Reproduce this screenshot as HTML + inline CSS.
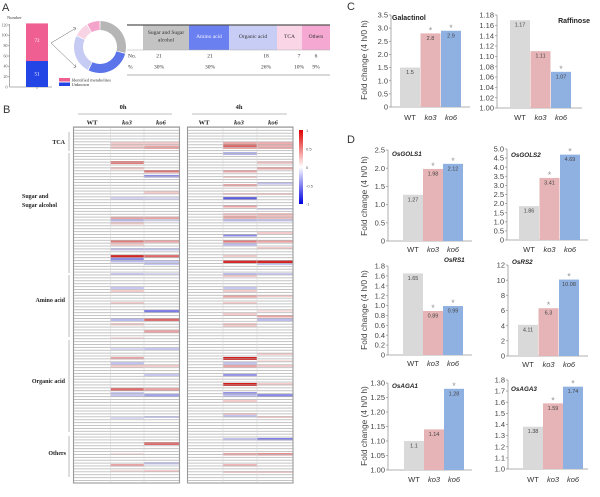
<!DOCTYPE html>
<html><head><meta charset="utf-8"><style>
html,body{margin:0;padding:0;background:#fff;}
svg{display:block;}
.s{font-family:"Liberation Sans",Arial,sans-serif;}
.f{font-family:"Liberation Serif","Times New Roman",serif;}
.tk{font-family:"Liberation Sans",Arial,sans-serif;font-size:7.5px;fill:#444;text-anchor:end;}
.xl{font-family:"Liberation Sans",Arial,sans-serif;font-size:7.5px;fill:#333;text-anchor:middle;}
.it{font-style:italic;}
.vl{font-family:"Liberation Sans",Arial,sans-serif;font-size:5.5px;fill:#444;text-anchor:middle;}
.as{font-family:"Liberation Sans",Arial,sans-serif;font-size:9px;fill:#999;text-anchor:middle;}
.ti{font-family:"Liberation Sans",Arial,sans-serif;font-size:6.3px;font-weight:bold;font-style:italic;fill:#222;}
.yl{font-family:"Liberation Sans",Arial,sans-serif;font-size:8.4px;fill:#444;text-anchor:middle;}
.ax line{stroke:#999;stroke-width:0.8;}
</style></head><body>
<svg width="600" height="497" viewBox="0 0 600 497" xmlns="http://www.w3.org/2000/svg">
<defs>
<pattern id="rows" x="0" y="127" width="10" height="2.894" patternUnits="userSpaceOnUse"><rect x="0" y="0" width="10" height="0.75" fill="#b0b0b0"/></pattern>
<linearGradient id="cb" x1="0" y1="0" x2="0" y2="1">
<stop offset="0" stop-color="#e00000"/><stop offset="0.5" stop-color="#ffffff"/><stop offset="1" stop-color="#0000e0"/>
</linearGradient>
</defs>

<!-- Panel labels -->
<text x="2" y="11" class="s" font-size="11" fill="#333">A</text>
<text x="3" y="113" class="s" font-size="11" fill="#333">B</text>
<text x="347" y="10" class="s" font-size="11" fill="#333">C</text>
<text x="347" y="143" class="s" font-size="11" fill="#333">D</text>

<!-- ===== Panel A ===== -->
<text x="7" y="19" class="f" font-size="4.5" fill="#444">Number</text>
<g class="ax"><line x1="9.5" y1="24" x2="9.5" y2="87"/><line x1="9.5" y1="87" x2="52" y2="87"/><line x1="37" y1="87" x2="37" y2="89"/>
<line x1="8" y1="25" x2="9.5" y2="25"/><line x1="8" y1="35.3" x2="9.5" y2="35.3"/><line x1="8" y1="45.7" x2="9.5" y2="45.7"/><line x1="8" y1="56" x2="9.5" y2="56"/><line x1="8" y1="66.3" x2="9.5" y2="66.3"/><line x1="8" y1="76.7" x2="9.5" y2="76.7"/></g>
<g class="f" font-size="4" fill="#555" text-anchor="end">
<text x="7.5" y="26.3">120</text><text x="7.5" y="36.6">100</text><text x="7.5" y="47">80</text><text x="7.5" y="57.3">60</text><text x="7.5" y="67.6">40</text><text x="7.5" y="78">20</text><text x="7.5" y="88.3">0</text></g>
<rect x="26" y="23.4" width="22" height="37.6" fill="#ef5f92"/>
<rect x="26" y="61" width="22" height="26" fill="#2445e6"/>
<text x="37" y="42" class="f" font-size="5" fill="#fff" text-anchor="middle">72</text>
<text x="37" y="75.5" class="f" font-size="5" fill="#fff" text-anchor="middle">51</text>
<rect x="59" y="78" width="11" height="3.5" fill="#ef5f92"/>
<rect x="59" y="82.5" width="11" height="3.5" fill="#2445e6"/>
<text x="71.5" y="81.3" class="f" font-size="4.5" fill="#333">Identified metabolites</text>
<text x="71.5" y="85.8" class="f" font-size="4.5" fill="#333">Unknown</text>
<g stroke="#666" stroke-width="0.5" fill="none">
<line x1="51" y1="43" x2="76" y2="28"/><line x1="51" y1="43" x2="76" y2="67"/>
<polyline points="73,27.5 76,28 74.5,30.5"/><polyline points="73.5,67.5 76,67 75.5,64.5"/></g>
<!-- donut -->
<path d="M100.45,21 A26,26 0 0 1 125.33,52.85 L116.56,50.82 A17,17 0 0 0 100.30,30 Z" fill="#b6b6b6"/>
<path d="M125.11,53.73 A26,26 0 0 1 88.60,70.37 L92.55,62.28 A17,17 0 0 0 116.42,51.40 Z" fill="#5b74ea"/>
<path d="M87.79,69.96 A26,26 0 0 1 76.44,36.01 L84.59,39.82 A17,17 0 0 0 92.02,62.01 Z" fill="#c6cbf4"/>
<path d="M76.83,35.20 A26,26 0 0 1 86.61,24.71 L91.24,32.43 A17,17 0 0 0 84.85,39.28 Z" fill="#f8d3e3"/>
<path d="M87.39,24.26 A26,26 0 0 1 99.55,21 L99.70,30 A17,17 0 0 0 91.76,32.13 Z" fill="#f4a3cb"/>
<!-- table -->
<rect x="143" y="25.5" width="46" height="24.5" fill="#c3c3c3"/>
<rect x="189" y="25.5" width="40" height="24.5" fill="#6a80f0"/>
<rect x="229" y="25.5" width="48" height="24.5" fill="#c8cdf5"/>
<rect x="277" y="25.5" width="25" height="24.5" fill="#fad5e5"/>
<rect x="302" y="25.5" width="28" height="24.5" fill="#f5a8d2"/>
<line x1="127" y1="25" x2="330" y2="25" stroke="#555" stroke-width="1.2"/>
<line x1="127" y1="50" x2="330" y2="50" stroke="#aaa" stroke-width="0.5"/>
<line x1="127" y1="75" x2="330" y2="75" stroke="#999" stroke-width="0.8"/>
<g class="f" font-size="5.5" fill="#333" text-anchor="middle">
<text x="166" y="34">Sugar and Sugar</text><text x="166" y="41.5">alcohol</text>
<text x="209" y="38" fill="#f4f4ff">Amino acid</text>
<text x="253" y="38">Organic acid</text>
<text x="289.5" y="38">TCA</text>
<text x="316" y="38">Others</text>
<text x="159" y="57.5">21</text><text x="210" y="57.5">21</text><text x="266" y="57.5">18</text><text x="299" y="57.5">7</text><text x="316" y="57.5">6</text>
<text x="159" y="68.5">30%</text><text x="210" y="68.5">30%</text><text x="266" y="68.5">26%</text><text x="299" y="68.5">10%</text><text x="316" y="68.5">9%</text>
</g>
<g class="f" font-size="5.5" fill="#333"><text x="128" y="57.5">No.</text><text x="128" y="68.5">%</text></g>

<!-- ===== Panel B ===== -->
<g class="f" font-size="6.5" font-weight="bold" fill="#222" text-anchor="middle">
<text x="123" y="109">0h</text><text x="239" y="109">4h</text>
<text x="92" y="124.5">WT</text><text x="127" y="124.5" font-style="italic">ko3</text><text x="161" y="124.5" font-style="italic">ko6</text>
<text x="204" y="124.5">WT</text><text x="239" y="124.5" font-style="italic">ko3</text><text x="273" y="124.5" font-style="italic">ko6</text>
</g>
<line x1="78" y1="114" x2="172" y2="114" stroke="#aaa" stroke-width="0.8"/>
<line x1="192" y1="114" x2="287" y2="114" stroke="#aaa" stroke-width="0.8"/>
<g class="f" font-size="6" font-weight="bold" fill="#222">
<text x="65" y="144" text-anchor="end">TCA</text>
<text x="22" y="198">Sugar and</text><text x="22" y="207">Sugar alcohol</text>
<text x="65" y="302" text-anchor="end">Amino acid</text>
<text x="65" y="383" text-anchor="end">Organic acid</text>
<text x="66" y="455" text-anchor="end">Others</text>
</g>
<g stroke="#aaa" stroke-width="0.8">
<line x1="69" y1="132" x2="69" y2="151"/><line x1="69" y1="153" x2="69" y2="273"/><line x1="69" y1="275" x2="69" y2="337"/><line x1="69" y1="340" x2="69" y2="432"/><line x1="69" y1="436" x2="69" y2="477"/></g>

<rect x="73" y="127" width="107" height="356" fill="#fff"/>
<rect x="187" y="127" width="106" height="356" fill="#fff"/>
<!-- heatmap cells -->
<g>
<!-- 0h ko3 x=110.5 w=33.5 -->
<rect x="110.5" y="142" width="33.5" height="7" fill="#f6cccc"/>
<rect x="110.5" y="161" width="33.5" height="3" fill="#e77a7a"/>
<rect x="110.5" y="167" width="33.5" height="2.5" fill="#f6cccc"/>
<rect x="110.5" y="197" width="33.5" height="2.5" fill="#d4d4f6"/>
<rect x="110.5" y="216.5" width="33.5" height="2.5" fill="#eea4a4"/>
<rect x="110.5" y="219" width="33.5" height="2.5" fill="#b8b8f0"/>
<rect x="110.5" y="222" width="33.5" height="2.5" fill="#f6cccc"/>
<rect x="110.5" y="240" width="33.5" height="2.5" fill="#e77a7a"/>
<rect x="110.5" y="243" width="33.5" height="2.5" fill="#f6cccc"/>
<rect x="110.5" y="248" width="33.5" height="2.5" fill="#c4c4f2"/>
<rect x="110.5" y="255" width="33.5" height="2.5" fill="#d42424"/>
<rect x="110.5" y="257.5" width="33.5" height="2.5" fill="#8c8ce8"/>
<rect x="110.5" y="260" width="33.5" height="2.5" fill="#bcbcf2"/>
<rect x="110.5" y="273" width="33.5" height="2" fill="#c8c8f4"/>
<rect x="110.5" y="287" width="33.5" height="2" fill="#c8c8f4"/>
<rect x="110.5" y="290" width="33.5" height="2" fill="#f6cccc"/>
<rect x="110.5" y="302" width="33.5" height="2" fill="#f6cccc"/>
<rect x="110.5" y="318" width="33.5" height="3" fill="#bcbcf2"/>
<rect x="110.5" y="323" width="33.5" height="2.5" fill="#f6cccc"/>
<rect x="110.5" y="337" width="33.5" height="2" fill="#fae2e2"/>
<rect x="110.5" y="348" width="33.5" height="2" fill="#dadaf6"/>
<rect x="110.5" y="357" width="33.5" height="2.5" fill="#eea4a4"/>
<rect x="110.5" y="362" width="33.5" height="2.5" fill="#c4c4f2"/>
<rect x="110.5" y="365" width="33.5" height="2.5" fill="#f6cccc"/>
<rect x="110.5" y="388" width="33.5" height="3" fill="#e06a6a"/>
<rect x="110.5" y="392" width="33.5" height="5" fill="#c8c8f4"/>
<rect x="110.5" y="417" width="33.5" height="2" fill="#dadaf6"/>
<rect x="110.5" y="453" width="33.5" height="2" fill="#fae2e2"/>
<rect x="110.5" y="464" width="33.5" height="2.5" fill="#eea4a4"/>
<rect x="110.5" y="470" width="33.5" height="2" fill="#fae2e2"/>
<!-- 0h ko6 x=144 w=35 -->
<rect x="144" y="142" width="35" height="4" fill="#f6cccc"/>
<rect x="144" y="146" width="35" height="3" fill="#eea4a4"/>
<rect x="144" y="170" width="35" height="2.5" fill="#e06a6a"/>
<rect x="144" y="175" width="35" height="2.5" fill="#8c8ce8"/>
<rect x="144" y="191" width="35" height="2.5" fill="#f6cccc"/>
<rect x="144" y="197" width="35" height="2.5" fill="#dadaf6"/>
<rect x="144" y="216.5" width="35" height="2.5" fill="#eea4a4"/>
<rect x="144" y="219" width="35" height="2.5" fill="#dadaf6"/>
<rect x="144" y="240" width="35" height="2.5" fill="#eea4a4"/>
<rect x="144" y="248" width="35" height="2.5" fill="#c8c8f4"/>
<rect x="144" y="255" width="35" height="2.5" fill="#e06a6a"/>
<rect x="144" y="260" width="35" height="5" fill="#c8c8f4"/>
<rect x="144" y="273" width="35" height="2" fill="#dadaf6"/>
<rect x="144" y="310" width="35" height="2.5" fill="#7c7ce6"/>
<rect x="144" y="318" width="35" height="3" fill="#e06a6a"/>
<rect x="144" y="330" width="35" height="2.5" fill="#eea4a4"/>
<rect x="144" y="348" width="35" height="2" fill="#c8c8f4"/>
<rect x="144" y="365" width="35" height="2" fill="#f6cccc"/>
<rect x="144" y="374" width="35" height="2" fill="#c8c8f4"/>
<rect x="144" y="388" width="35" height="3" fill="#eea4a4"/>
<rect x="144" y="394" width="35" height="3" fill="#a4a4ec"/>
<rect x="144" y="416" width="35" height="2" fill="#c8c8f4"/>
<rect x="144" y="442" width="35" height="3" fill="#e06a6a"/>
<rect x="144" y="462" width="35" height="2.5" fill="#c4c4f2"/>
<rect x="144" y="470" width="35" height="2" fill="#f6cccc"/>
<!-- 4h ko3 x=223 w=34 -->
<rect x="223" y="142" width="34" height="7" fill="#eea4a4"/>
<rect x="223" y="144" width="34" height="3" fill="#e06464"/>
<rect x="223" y="152" width="34" height="3" fill="#b4b4f0"/>
<rect x="223" y="170" width="34" height="2.5" fill="#eea4a4"/>
<rect x="223" y="176" width="34" height="2" fill="#f6cccc"/>
<rect x="223" y="184" width="34" height="2.5" fill="#eea4a4"/>
<rect x="223" y="193" width="34" height="2" fill="#f6cccc"/>
<rect x="223" y="197" width="34" height="2.5" fill="#5c5ce0"/>
<rect x="223" y="205" width="34" height="2.5" fill="#eea4a4"/>
<rect x="223" y="213" width="34" height="6" fill="#f6cccc"/>
<rect x="223" y="216" width="34" height="2.5" fill="#eea4a4"/>
<rect x="223" y="219" width="34" height="2.5" fill="#bcbcf2"/>
<rect x="223" y="234" width="34" height="2.5" fill="#8c8ce8"/>
<rect x="223" y="240" width="34" height="2.5" fill="#e77a7a"/>
<rect x="223" y="243" width="34" height="2.5" fill="#bcbcf2"/>
<rect x="223" y="255" width="34" height="2" fill="#f6cccc"/>
<rect x="223" y="260" width="34" height="3" fill="#d82828"/>
<rect x="223" y="273" width="34" height="2" fill="#bcbcf2"/>
<rect x="223" y="275" width="34" height="2" fill="#f6cccc"/>
<rect x="223" y="287" width="34" height="2" fill="#c8c8f4"/>
<rect x="223" y="290" width="34" height="2" fill="#f6cccc"/>
<rect x="223" y="295" width="34" height="2.5" fill="#eea4a4"/>
<rect x="223" y="302" width="34" height="2" fill="#f6cccc"/>
<rect x="223" y="313" width="34" height="3" fill="#f6cccc"/>
<rect x="223" y="323" width="34" height="4" fill="#f6cccc"/>
<rect x="223" y="357" width="34" height="3" fill="#d41c1c"/>
<rect x="223" y="362" width="34" height="2.5" fill="#c4c4f2"/>
<rect x="223" y="365" width="34" height="2.5" fill="#eea4a4"/>
<rect x="223" y="374" width="34" height="2.5" fill="#9494ea"/>
<rect x="223" y="383" width="34" height="3" fill="#d41c1c"/>
<rect x="223" y="392" width="34" height="2.5" fill="#9494ea"/>
<rect x="223" y="394.5" width="34" height="2.5" fill="#c4c4f2"/>
<rect x="223" y="400" width="34" height="2" fill="#f6cccc"/>
<rect x="223" y="413" width="34" height="2" fill="#f6cccc"/>
<rect x="223" y="415" width="34" height="2.5" fill="#c4c4f2"/>
<rect x="223" y="438" width="34" height="2.5" fill="#c4c4f2"/>
<rect x="223" y="453" width="34" height="2.5" fill="#eea4a4"/>
<rect x="223" y="464" width="34" height="2.5" fill="#f2b8b8"/>
<rect x="223" y="471" width="34" height="2" fill="#f6cccc"/>
<!-- 4h ko6 x=257 w=36 -->
<rect x="257" y="142" width="36" height="7" fill="#f0aeae"/>
<rect x="257" y="161" width="36" height="3" fill="#f6cccc"/>
<rect x="257" y="167" width="36" height="2.5" fill="#eea4a4"/>
<rect x="257" y="182" width="36" height="2.5" fill="#c4c4f2"/>
<rect x="257" y="193" width="36" height="2" fill="#f6cccc"/>
<rect x="257" y="208" width="36" height="2" fill="#dadaf6"/>
<rect x="257" y="213" width="36" height="6" fill="#f3c0c0"/>
<rect x="257" y="219" width="36" height="2.5" fill="#c8c8f4"/>
<rect x="257" y="232" width="36" height="2" fill="#f6cccc"/>
<rect x="257" y="240" width="36" height="2.5" fill="#eea4a4"/>
<rect x="257" y="247" width="36" height="2" fill="#f6cccc"/>
<rect x="257" y="260" width="36" height="3" fill="#d42424"/>
<rect x="257" y="263" width="36" height="2" fill="#c4c4f2"/>
<rect x="257" y="273" width="36" height="2" fill="#c8c8f4"/>
<rect x="257" y="295" width="36" height="2" fill="#f6cccc"/>
<rect x="257" y="310" width="36" height="2" fill="#fae2e2"/>
<rect x="257" y="315" width="36" height="2.5" fill="#eea4a4"/>
<rect x="257" y="318" width="36" height="3" fill="#bcbcf2"/>
<rect x="257" y="353" width="36" height="2" fill="#f6cccc"/>
<rect x="257" y="360" width="36" height="2" fill="#fae2e2"/>
<rect x="257" y="365" width="36" height="2" fill="#f6cccc"/>
<rect x="257" y="383" width="36" height="2.5" fill="#f6cccc"/>
<rect x="257" y="394" width="36" height="3" fill="#8c8ce8"/>
<rect x="257" y="416" width="36" height="2" fill="#f6cccc"/>
<rect x="257" y="438" width="36" height="2.5" fill="#8080e6"/>
<rect x="257" y="453" width="36" height="2.5" fill="#e99090"/>
<rect x="257" y="471" width="36" height="2" fill="#f6cccc"/>
</g>
<rect x="73" y="127" width="107" height="356" fill="url(#rows)"/>
<rect x="187" y="127" width="106" height="356" fill="url(#rows)"/>
<g stroke="#d6d6d6" stroke-width="0.6">
<line x1="110.5" y1="127" x2="110.5" y2="483"/><line x1="144" y1="127" x2="144" y2="483"/>
<line x1="223" y1="127" x2="223" y2="483"/><line x1="257" y1="127" x2="257" y2="483"/></g>
<rect x="73.5" y="127" width="106" height="356" fill="none" stroke="#9a9a9a" stroke-width="1.1"/>
<rect x="187.5" y="127" width="105.5" height="356" fill="none" stroke="#9a9a9a" stroke-width="1.1"/>
<!-- colorbar -->
<rect x="299" y="130" width="4" height="74" fill="url(#cb)"/>
<g class="s" font-size="4" fill="#555">
<text x="306" y="132">1</text><text x="306" y="150.5">0.5</text><text x="306" y="169">0</text><text x="306" y="187.5">-0.5</text><text x="306" y="205.5">-1</text></g>

<!-- ===== Panel C ===== -->
<text class="yl" transform="rotate(-90 367 60)" x="367" y="60">Fold change (4 h/0 h)</text>
<!-- Galactinol -->
<g class="ax"><line x1="391" y1="15" x2="391" y2="107"/><line x1="391" y1="107" x2="470" y2="107"/>
<line x1="389" y1="107" x2="391" y2="107"/><line x1="389" y1="93.86" x2="391" y2="93.86"/><line x1="389" y1="80.71" x2="391" y2="80.71"/><line x1="389" y1="67.57" x2="391" y2="67.57"/><line x1="389" y1="54.43" x2="391" y2="54.43"/><line x1="389" y1="41.29" x2="391" y2="41.29"/><line x1="389" y1="28.14" x2="391" y2="28.14"/><line x1="389" y1="15" x2="391" y2="15"/></g>
<text class="tk" x="388" y="109.6">0</text><text class="tk" x="388" y="96.5">0.5</text><text class="tk" x="388" y="83.3">1.0</text><text class="tk" x="388" y="70.2">1.5</text><text class="tk" x="388" y="57">2.0</text><text class="tk" x="388" y="43.9">2.5</text><text class="tk" x="388" y="30.7">3.0</text><text class="tk" x="388" y="17.6">3.5</text>
<rect x="400" y="67.57" width="20" height="39.43" fill="#d9d9d9"/>
<rect x="420.5" y="33.4" width="20" height="73.6" fill="#e6b4b6"/>
<rect x="441" y="30.77" width="20" height="76.23" fill="#8fb1e2"/>
<text class="vl" x="410" y="74.1">1.5</text><text class="vl" x="430.5" y="39.9">2.8</text><text class="vl" x="451" y="37.3">2.9</text>
<text class="as" x="430.5" y="33.4">*</text><text class="as" x="451" y="30.8">*</text>
<text x="392" y="20" class="s" font-size="7" font-weight="bold" fill="#222">Galactinol</text>
<text class="xl" x="410" y="120">WT</text><text class="xl it" x="430.5" y="120">ko3</text><text class="xl it" x="451" y="120">ko6</text>
<!-- Raffinose -->
<g class="ax"><line x1="497" y1="15" x2="497" y2="108"/><line x1="497" y1="108" x2="582" y2="108"/>
<line x1="495" y1="108" x2="497" y2="108"/><line x1="495" y1="97.67" x2="497" y2="97.67"/><line x1="495" y1="87.33" x2="497" y2="87.33"/><line x1="495" y1="77" x2="497" y2="77"/><line x1="495" y1="66.67" x2="497" y2="66.67"/><line x1="495" y1="56.33" x2="497" y2="56.33"/><line x1="495" y1="46" x2="497" y2="46"/><line x1="495" y1="35.67" x2="497" y2="35.67"/><line x1="495" y1="25.33" x2="497" y2="25.33"/><line x1="495" y1="15" x2="497" y2="15"/></g>
<text class="tk" x="494" y="110.6">1.00</text><text class="tk" x="494" y="100.3">1.02</text><text class="tk" x="494" y="89.9">1.04</text><text class="tk" x="494" y="79.6">1.06</text><text class="tk" x="494" y="69.3">1.08</text><text class="tk" x="494" y="58.9">1.10</text><text class="tk" x="494" y="48.6">1.12</text><text class="tk" x="494" y="38.3">1.14</text><text class="tk" x="494" y="27.9">1.16</text><text class="tk" x="494" y="17.6">1.18</text>
<rect x="510" y="20.17" width="20" height="87.83" fill="#d9d9d9"/>
<rect x="530.5" y="51.17" width="20" height="56.83" fill="#e6b4b6"/>
<rect x="551" y="71.83" width="20" height="36.17" fill="#8fb1e2"/>
<text class="vl" x="520" y="26.7">1.17</text><text class="vl" x="540.5" y="57.7">1.11</text><text class="vl" x="561" y="78.3">1.07</text>
<text class="as" x="561" y="71.8">*</text>
<text x="590" y="23" class="s" font-size="7" font-weight="bold" fill="#222" text-anchor="end">Raffinose</text>
<text class="xl" x="520" y="120">WT</text><text class="xl it" x="540.5" y="120">ko3</text><text class="xl it" x="561" y="120">ko6</text>

<!-- ===== Panel D ===== -->
<text class="yl" transform="rotate(-90 367 196)" x="367" y="196">Fold change (4 h/0 h)</text>
<text class="yl" transform="rotate(-90 367 310)" x="367" y="310">Fold change (4 h/0 h)</text>
<text class="yl" transform="rotate(-90 367 426)" x="367" y="426">Fold change (4 h/0 h)</text>

<!-- GOLS1 -->
<g class="ax"><line x1="388" y1="150" x2="388" y2="241"/><line x1="388" y1="241" x2="472" y2="241"/>
<line x1="386" y1="241" x2="388" y2="241"/><line x1="386" y1="222.8" x2="388" y2="222.8"/><line x1="386" y1="204.6" x2="388" y2="204.6"/><line x1="386" y1="186.4" x2="388" y2="186.4"/><line x1="386" y1="168.2" x2="388" y2="168.2"/><line x1="386" y1="150" x2="388" y2="150"/></g>
<text class="tk" x="385" y="243.6">0</text><text class="tk" x="385" y="225.4">0.5</text><text class="tk" x="385" y="207.2">1.0</text><text class="tk" x="385" y="189">1.5</text><text class="tk" x="385" y="170.8">2.0</text><text class="tk" x="385" y="152.6">2.5</text>
<rect x="403" y="194.77" width="20" height="46.23" fill="#d9d9d9"/>
<rect x="423" y="168.93" width="20" height="72.07" fill="#e6b4b6"/>
<rect x="443" y="163.83" width="20" height="77.17" fill="#8fb1e2"/>
<text class="vl" x="413" y="201.3">1.27</text><text class="vl" x="433" y="175.4">1.98</text><text class="vl" x="453" y="170.3">2.12</text>
<text class="as" x="433" y="168.9">*</text><text class="as" x="453" y="163.8">*</text>
<text class="ti" x="392" y="156">OsGOLS1</text>
<text class="xl" x="413" y="252">WT</text><text class="xl it" x="433" y="252">ko3</text><text class="xl it" x="453" y="252">ko6</text>

<!-- GOLS2 -->
<g class="ax"><line x1="507" y1="149" x2="507" y2="240"/><line x1="507" y1="240" x2="588" y2="240"/>
<line x1="505" y1="240" x2="507" y2="240"/><line x1="505" y1="230.9" x2="507" y2="230.9"/><line x1="505" y1="221.8" x2="507" y2="221.8"/><line x1="505" y1="212.7" x2="507" y2="212.7"/><line x1="505" y1="203.6" x2="507" y2="203.6"/><line x1="505" y1="194.5" x2="507" y2="194.5"/><line x1="505" y1="185.4" x2="507" y2="185.4"/><line x1="505" y1="176.3" x2="507" y2="176.3"/><line x1="505" y1="167.2" x2="507" y2="167.2"/><line x1="505" y1="158.1" x2="507" y2="158.1"/><line x1="505" y1="149" x2="507" y2="149"/></g>
<text class="tk" x="504" y="242.6">0</text><text class="tk" x="504" y="233.5">0.5</text><text class="tk" x="504" y="224.4">1.0</text><text class="tk" x="504" y="215.3">1.5</text><text class="tk" x="504" y="206.2">2.0</text><text class="tk" x="504" y="197.1">2.5</text><text class="tk" x="504" y="188">3.0</text><text class="tk" x="504" y="178.9">3.5</text><text class="tk" x="504" y="169.8">4.0</text><text class="tk" x="504" y="160.7">4.5</text><text class="tk" x="504" y="151.6">5.0</text>
<rect x="519" y="206.15" width="20" height="33.85" fill="#d9d9d9"/>
<rect x="539.5" y="177.94" width="20" height="62.06" fill="#e6b4b6"/>
<rect x="560" y="154.64" width="20" height="85.36" fill="#8fb1e2"/>
<text class="vl" x="529" y="212.6">1.86</text><text class="vl" x="549.5" y="184.4">3.41</text><text class="vl" x="570" y="161.1">4.69</text>
<text class="as" x="549.5" y="177.9">*</text><text class="as" x="570" y="154.6">*</text>
<text class="ti" x="511" y="157">OsGOLS2</text>
<text class="xl" x="529" y="252">WT</text><text class="xl it" x="549.5" y="252">ko3</text><text class="xl it" x="570" y="252">ko6</text>

<!-- RS1 -->
<g class="ax"><line x1="388" y1="266" x2="388" y2="355"/><line x1="388" y1="355" x2="472" y2="355"/>
<line x1="386" y1="355" x2="388" y2="355"/><line x1="386" y1="345.1" x2="388" y2="345.1"/><line x1="386" y1="335.2" x2="388" y2="335.2"/><line x1="386" y1="325.3" x2="388" y2="325.3"/><line x1="386" y1="315.4" x2="388" y2="315.4"/><line x1="386" y1="305.6" x2="388" y2="305.6"/><line x1="386" y1="295.7" x2="388" y2="295.7"/><line x1="386" y1="285.8" x2="388" y2="285.8"/><line x1="386" y1="275.9" x2="388" y2="275.9"/><line x1="386" y1="266" x2="388" y2="266"/></g>
<text class="tk" x="385" y="357.6">0</text><text class="tk" x="385" y="347.7">0.2</text><text class="tk" x="385" y="337.8">0.4</text><text class="tk" x="385" y="327.9">0.6</text><text class="tk" x="385" y="318">0.8</text><text class="tk" x="385" y="308.2">1.0</text><text class="tk" x="385" y="298.3">1.2</text><text class="tk" x="385" y="288.4">1.4</text><text class="tk" x="385" y="278.5">1.6</text><text class="tk" x="385" y="268.6">1.8</text>
<rect x="403" y="273.42" width="20" height="81.58" fill="#d9d9d9"/>
<rect x="423" y="311" width="20" height="44" fill="#e6b4b6"/>
<rect x="443" y="306.05" width="20" height="48.95" fill="#8fb1e2"/>
<text class="vl" x="413" y="279.9">1.65</text><text class="vl" x="433" y="317.5">0.89</text><text class="vl" x="453" y="312.5">0.99</text>
<text class="as" x="433" y="311">*</text><text class="as" x="453" y="306">*</text>
<text class="ti" x="444" y="262">OsRS1</text>
<text class="xl" x="413" y="366">WT</text><text class="xl it" x="433" y="366">ko3</text><text class="xl it" x="453" y="366">ko6</text>

<!-- RS2 -->
<g class="ax"><line x1="508" y1="265" x2="508" y2="356"/><line x1="508" y1="356" x2="588" y2="356"/>
<line x1="506" y1="356" x2="508" y2="356"/><line x1="506" y1="340.8" x2="508" y2="340.8"/><line x1="506" y1="325.7" x2="508" y2="325.7"/><line x1="506" y1="310.5" x2="508" y2="310.5"/><line x1="506" y1="295.3" x2="508" y2="295.3"/><line x1="506" y1="280.2" x2="508" y2="280.2"/><line x1="506" y1="265" x2="508" y2="265"/></g>
<text class="tk" x="505" y="358.6">0</text><text class="tk" x="505" y="343.4">2</text><text class="tk" x="505" y="328.3">4</text><text class="tk" x="505" y="313.1">6</text><text class="tk" x="505" y="297.9">8</text><text class="tk" x="505" y="282.8">10</text><text class="tk" x="505" y="267.6">12</text>
<rect x="518" y="324.83" width="20" height="31.17" fill="#d9d9d9"/>
<rect x="538.5" y="308.22" width="20" height="47.78" fill="#e6b4b6"/>
<rect x="559" y="279.56" width="20" height="76.44" fill="#8fb1e2"/>
<text class="vl" x="528" y="331.3">4.11</text><text class="vl" x="548.5" y="314.7">6.3</text><text class="vl" x="569" y="286">10.08</text>
<text class="as" x="548.5" y="308.2">*</text><text class="as" x="569" y="279.6">*</text>
<text class="ti" x="512" y="264">OsRS2</text>
<text class="xl" x="528" y="367">WT</text><text class="xl it" x="548.5" y="367">ko3</text><text class="xl it" x="569" y="367">ko6</text>

<!-- AGA1 -->
<g class="ax"><line x1="388" y1="383" x2="388" y2="470"/><line x1="388" y1="470" x2="472" y2="470"/>
<line x1="386" y1="470" x2="388" y2="470"/><line x1="386" y1="455.5" x2="388" y2="455.5"/><line x1="386" y1="441" x2="388" y2="441"/><line x1="386" y1="426.5" x2="388" y2="426.5"/><line x1="386" y1="412" x2="388" y2="412"/><line x1="386" y1="397.5" x2="388" y2="397.5"/><line x1="386" y1="383" x2="388" y2="383"/></g>
<text class="tk" x="385" y="472.6">1.00</text><text class="tk" x="385" y="458.1">1.05</text><text class="tk" x="385" y="443.6">1.10</text><text class="tk" x="385" y="429.1">1.15</text><text class="tk" x="385" y="414.6">1.20</text><text class="tk" x="385" y="400.1">1.25</text><text class="tk" x="385" y="385.6">1.30</text>
<rect x="404" y="441" width="20" height="29" fill="#d9d9d9"/>
<rect x="424" y="429.4" width="20" height="40.6" fill="#e6b4b6"/>
<rect x="444" y="388.8" width="20" height="81.2" fill="#8fb1e2"/>
<text class="vl" x="414" y="447.5">1.1</text><text class="vl" x="434" y="435.9">1.14</text><text class="vl" x="454" y="395.3">1.28</text>
<text class="as" x="454" y="388.8">*</text>
<text class="ti" x="392" y="388">OsAGA1</text>
<text class="xl" x="414" y="482">WT</text><text class="xl it" x="434" y="482">ko3</text><text class="xl it" x="454" y="482">ko6</text>

<!-- AGA3 -->
<g class="ax"><line x1="508" y1="380" x2="508" y2="469"/><line x1="508" y1="469" x2="588" y2="469"/>
<line x1="506" y1="469" x2="508" y2="469"/><line x1="506" y1="457.9" x2="508" y2="457.9"/><line x1="506" y1="446.75" x2="508" y2="446.75"/><line x1="506" y1="435.6" x2="508" y2="435.6"/><line x1="506" y1="424.5" x2="508" y2="424.5"/><line x1="506" y1="413.4" x2="508" y2="413.4"/><line x1="506" y1="402.25" x2="508" y2="402.25"/><line x1="506" y1="391.1" x2="508" y2="391.1"/><line x1="506" y1="380" x2="508" y2="380"/></g>
<text class="tk" x="505" y="471.6">1.0</text><text class="tk" x="505" y="460.5">1.1</text><text class="tk" x="505" y="449.4">1.2</text><text class="tk" x="505" y="438.2">1.3</text><text class="tk" x="505" y="427.1">1.4</text><text class="tk" x="505" y="416">1.5</text><text class="tk" x="505" y="404.9">1.6</text><text class="tk" x="505" y="393.7">1.7</text><text class="tk" x="505" y="382.6">1.8</text>
<rect x="523" y="426.72" width="20" height="42.28" fill="#d9d9d9"/>
<rect x="543" y="403.36" width="20" height="65.64" fill="#e6b4b6"/>
<rect x="563" y="386.67" width="20" height="82.33" fill="#8fb1e2"/>
<text class="vl" x="533" y="433.2">1.38</text><text class="vl" x="553" y="409.9">1.59</text><text class="vl" x="573" y="393.2">1.74</text>
<text class="as" x="553" y="403.4">*</text><text class="as" x="573" y="386.7">*</text>
<text class="ti" x="511" y="391">OsAGA3</text>
<text class="xl" x="533" y="482">WT</text><text class="xl it" x="553" y="482">ko3</text><text class="xl it" x="573" y="482">ko6</text>
</svg>
</body></html>
